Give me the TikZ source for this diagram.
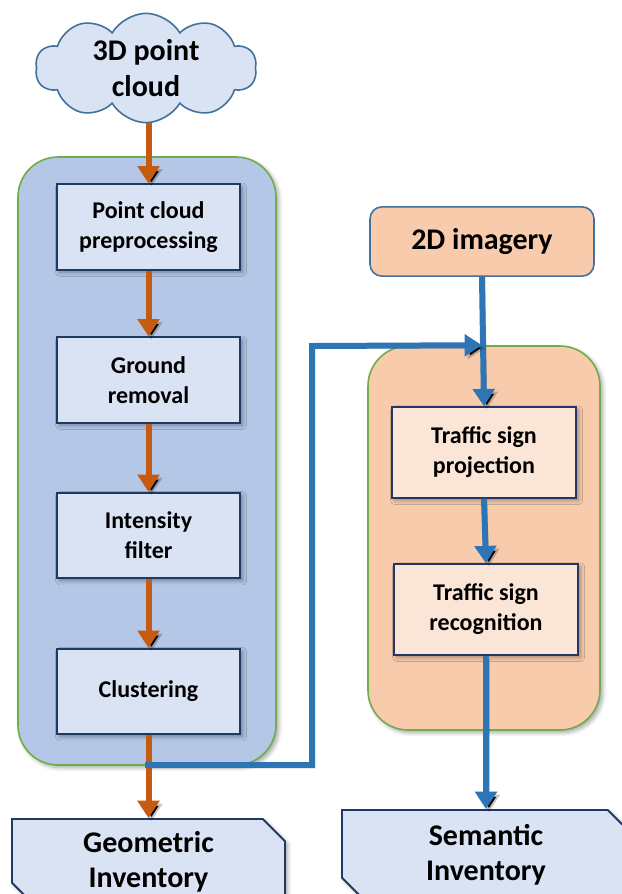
\documentclass[tikz,border=0pt]{standalone}
\usepackage{fontspec}
\setmainfont{Carlito}
\usetikzlibrary{shapes.symbols,shapes.misc,arrows.meta,shadows.blur}

\definecolor{paleblue}{HTML}{DAE3F3}
\definecolor{midblue}{HTML}{B4C7E7}
\definecolor{navy}{HTML}{203864}
\definecolor{steel}{HTML}{41719C}
\definecolor{leafgreen}{HTML}{70AD47}
\definecolor{peach}{HTML}{F8CBAD}
\definecolor{palepeach}{HTML}{FBE5D6}
\definecolor{rust}{HTML}{C55A11}
\definecolor{flowblue}{HTML}{2E75B6}

\tikzset{
  softshadow/.style={blur shadow={shadow blur steps=6, shadow xshift=2pt,
      shadow yshift=-2pt, shadow opacity=35, shadow blur radius=3pt}},
  lineshadow/.style={preaction={draw=black, draw opacity=0.22,
      transform canvas={xshift=2.2pt, yshift=-2.2pt}}},
  container/.style={draw=leafgreen, line width=1.2pt, rounded corners=30pt, softshadow},
  stepbox/.style={draw=navy, line width=1.4pt, align=center, softshadow,
      font=\fontsize{18pt}{22.5pt}\selectfont\bfseries},
  leftbox/.style={stepbox, fill=paleblue, minimum width=137.25pt, minimum height=64pt},
  rightbox/.style={stepbox, fill=palepeach, minimum width=138pt, minimum height=68pt},
  bigtext/.style={align=center, font=\fontsize{22.5pt}{26.5pt}\selectfont\bfseries},
  inventory/.style={bigtext, chamfered rectangle, chamfered rectangle corners={north east,south west},
      chamfered rectangle xsep=13.5pt, draw=navy, line width=1.4pt, fill=paleblue, inner sep=0pt, softshadow},
  rustflow/.style={lineshadow, draw=rust, line width=4.5pt, -{Triangle[width=16pt,length=13pt]}},
  blueflow/.style={lineshadow, draw=flowblue, line width=4.5pt, -{Triangle[width=16pt,length=13pt]}},
}

\begin{document}
\begin{tikzpicture}[x=0.75pt, y=-0.75pt]
\useasboundingbox (0,0) rectangle (622,894);
\clip (0,0) rectangle (622,894);

% group frames
\node[container, fill=midblue, minimum width=193.5pt, minimum height=456pt] (leftcont) at (147,461) {};
\node[container, fill=peach, minimum width=174pt, minimum height=288pt] (rightcont) at (484,538) {};

% sources
\node[cloud, cloud puffs=10, cloud puff arc=120, aspect=2, draw=steel, line width=1.2pt,
      fill=paleblue, minimum width=166pt, minimum height=82pt, bigtext, inner sep=0pt] (cloud) at (146,68)
      {3D point\\cloud};
\node[bigtext, draw=steel, line width=1.2pt, fill=peach, rounded corners=9pt,
      minimum width=168pt, minimum height=52pt] (img) at (482,241.5) {2D imagery};

% point cloud pipeline
\node[leftbox] (b1) at (148.5,227) {Point cloud\\preprocessing};
\node[leftbox] (b2) at (148.5,380) {Ground\\removal};
\node[leftbox] (b3) at (148.5,535.5) {Intensity\\filter};
\node[leftbox] (b4) at (148.5,691.5) {Clustering};

% image pipeline
\node[rightbox] (b5) at (484,452.5) {Traffic sign\\projection};
\node[rightbox] (b6) at (486,609.5) {Traffic sign\\recognition};

% outputs
\node[inventory, minimum width=204.75pt, minimum height=64.5pt] (geo) at (148.5,862) {Geometric\\Inventory};
\node[inventory, minimum width=216pt, minimum height=67.5pt] (sem) at (486,855) {Semantic\\Inventory};

% connectors
\draw[rustflow] (cloud.south -| b1.north) -- (b1.north);
\draw[rustflow] (b1.south) -- (b2.north);
\draw[rustflow] (b2.south) -- (b3.north);
\draw[rustflow] (b3.south) -- (b4.north);
\draw[rustflow] (b4.south) -- (geo.north);

\coordinate (tap) at (145,765);
\coordinate (riseA) at (312,765);
\coordinate (riseB) at (312,346);
\coordinate (merge) at (img.south |- rightcont.north);

\draw[blueflow] (img.south) -- (b5.north);
\draw[blueflow] (tap) -- (riseA) -- (riseB) -- (merge);
\draw[blueflow] (b5.south) -- (b6.north);
\draw[blueflow] (b6.south) -- (sem.north);
\end{tikzpicture}
\end{document}
